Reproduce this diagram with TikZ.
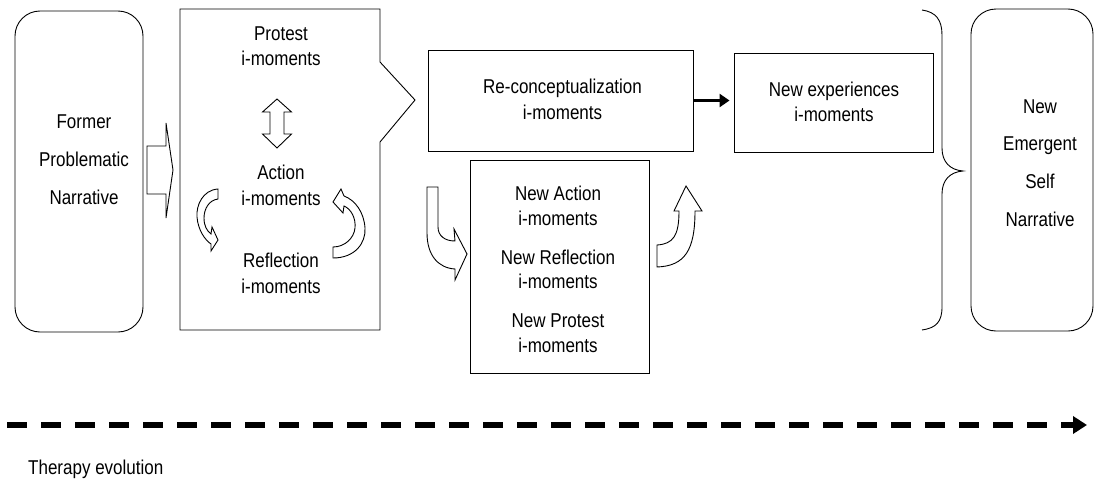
\documentclass[tikz,border=0pt]{standalone}
\usepackage{fontspec}
\setmainfont[FakeStretch=0.85]{Liberation Sans}
\usetikzlibrary{arrows.meta}

\begin{document}
\begin{tikzpicture}[x=1pt,y=-1pt,
  outline/.style={draw=black, line width=0.9pt, inner sep=0pt},
  roundbox/.style={outline, rounded corners=25pt},
  lbl/.style={font=\fontsize{20}{25.5}\selectfont, align=center, inner sep=0pt},
  widelbl/.style={font=\fontsize{20}{37.8}\selectfont, align=center, inner sep=0pt},
  blockarrow/.style={draw=black, fill=white, line width=0.9pt, line join=miter},
]
\useasboundingbox (0,0) rectangle (1095,479);

% ---- outer narrative boxes
\node[roundbox, minimum width=128pt, minimum height=321pt] (former) at (79,171.5) {};
\node[widelbl] (formertxt) at (84,159.5) {Former\\Problematic\\Narrative};

\node[roundbox, minimum width=122pt, minimum height=322pt] (emergent) at (1032,170) {};
\node[widelbl] (emergenttxt) at (1040,163) {New\\Emergent\\Self\\Narrative};

% ---- first phase: callout box
\coordinate (c1) at (180,9);
\coordinate (c2) at (380,9);
\coordinate (c3) at (380,62);
\coordinate (ctip) at (415,100);
\coordinate (c4) at (380,142);
\coordinate (c5) at (380,330);
\coordinate (c6) at (180,330);
\draw[line width=0.9pt] (c1) -- (c2) -- (c3) -- (ctip) -- (c4) -- (c5) -- (c6) -- cycle;

\node[lbl] (protest) at (281,46) {Protest\\i-moments};
\node[lbl] (action) at (281,185.5) {Action\\i-moments};
\node[lbl] (reflection) at (281,273.5) {Reflection\\i-moments};

% block arrow from the former narrative into the first phase
\draw[blockarrow] (147,146) -- (166,146) -- (166,123) -- (173,170) -- (166,218)
  -- (166,194) -- (147,194) -- cycle;

% vertical double block arrow between protest and action
\draw[blockarrow] (277,99) -- (291.5,112) -- (284,112) -- (284,134) -- (291.5,134)
  -- (277,148) -- (262.5,134) -- (270,134) -- (270,112) -- (262.5,112) -- cycle;

% curved block arrows between action and reflection
\draw[blockarrow] (218,189) .. controls (203,190) and (196,205) .. (197,217)
  .. controls (198,230) and (205,240) .. (211,244) -- (211,251) -- (218,240)
  -- (212,227) -- (211,234) .. controls (207,231) and (204,226) .. (204,218)
  .. controls (204,209) and (209,200) .. (218,199) -- cycle;
\draw[blockarrow] (333,258) .. controls (355,258) and (366,243) .. (365,228)
  .. controls (364,212) and (355,200) .. (344,196) -- (341,189) -- (333,202)
  -- (343,213) -- (344,206) .. controls (351,209) and (356,218) .. (355,228)
  .. controls (354,238) and (345,247) .. (333,247) -- cycle;

% ---- re-conceptualization and new experiences
\node[outline, minimum width=265pt, minimum height=101pt] (reconc) at (560.5,100.5) {};
\node[lbl] (reconctxt) at (562.5,99.4) {Re-conceptualization\\i-moments};

\node[outline, minimum width=199pt, minimum height=99pt] (newexp) at (833.5,102.5) {};
\node[lbl] (newexptxt) at (834,102) {New experiences\\i-moments};

\draw[line width=2.6pt, -{Triangle[length=10pt,width=13pt]}, shorten >=4pt]
  (reconc.east) -- (reconc.east -| newexp.west);

% ---- new action / reflection / protest
\node[outline, minimum width=179pt, minimum height=213pt] (newact) at (559.5,266.5) {};
\node[font=\fontsize{20}{24.5}\selectfont, align=center, inner sep=0pt] (newacttxt)
  at (558,269.5) {New Action\\i-moments\\[14.5pt]New Reflection\\i-moments\\[14.5pt]New Protest\\i-moments};

% curved block arrow into the box
\draw[blockarrow] (427,187) -- (438,187) -- (438,227) .. controls (438,236) and (445,241) .. (455,241)
  -- (454,229) -- (467,254) -- (455,280) -- (455,269)
  .. controls (438,268) and (427,255) .. (427,233) -- cycle;

% curved block arrow out of the box
\draw[blockarrow] (657,245) .. controls (673,244) and (679,236) .. (679,211)
  -- (674,211) -- (686,186) -- (702,211) -- (695,211)
  .. controls (695,250) and (685,266) .. (657,267) -- cycle;

% ---- brace gathering the phases
\draw[line width=0.9pt] (922,10) .. controls (936,12) and (942,20) .. (942,35) -- (942,148)
  .. controls (942,162) and (950,170) .. (963,171)
  .. controls (950,172) and (942,180) .. (942,194) -- (942,307)
  .. controls (942,322) and (936,328) .. (922,330);

% ---- time line
\coordinate (tstart) at (7,425);
\coordinate (tend) at (1087,425);
\draw[line width=6pt, dash pattern=on 20pt off 14pt, -{Triangle[length=14pt,width=17pt]}]
  (tstart) -- (tend);
\node[anchor=base west, font=\fontsize{20}{24}\selectfont, inner sep=0pt] (therapy)
  at (28,474) {Therapy evolution};
\end{tikzpicture}
\end{document}
